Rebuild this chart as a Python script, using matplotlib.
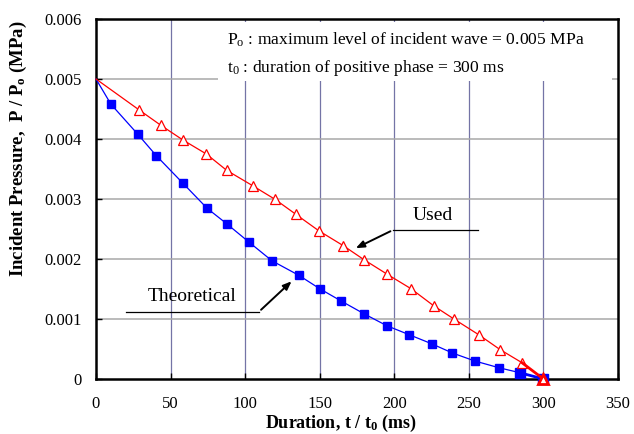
import matplotlib
matplotlib.use("Agg")
import matplotlib.pyplot as plt
from matplotlib.patches import Rectangle

# ---- data ----
theo_t = [0, 10, 28, 40.5, 58, 74.5, 87.5, 102.5, 118, 136, 150, 164, 180, 195, 210, 225, 239, 254, 270, 284, 300]
theo_p = [0.005, 0.00458, 0.00408, 0.00372, 0.00327, 0.002845, 0.00259, 0.002283, 0.00197, 0.001728, 0.001505,
          0.001305, 0.001083, 0.000888, 0.000738, 0.000588, 0.000433, 0.0003, 0.000189, 0.000106, 0.0]
used_t = [0, 29, 43.5, 58.3, 74, 87.6, 105, 120, 134, 149.3, 165.8, 179.7, 195.3, 211.2, 226.6, 240.3, 256.6, 271, 285.6, 300]
used_p = [0.005, 0.004483, 0.004228, 0.003983, 0.00375, 0.003478, 0.003222, 0.002995, 0.002745, 0.002472, 0.002222,
          0.001988, 0.001745, 0.001505, 0.001217, 0.000995, 0.000738, 0.000489, 0.000272, 0.0]
x_ticks = [0, 50, 100, 150, 200, 250, 300, 350]
y_ticks = [0, 0.001, 0.002, 0.003, 0.004, 0.005, 0.006]
y_tick_labels = ["0", "0.001", "0.002", "0.003", "0.004", "0.005", "0.006"]

plt.rcParams['font.family'] = ['Liberation Serif', 'DejaVu Serif']
plt.rcParams['mathtext.fontset'] = 'custom'
plt.rcParams['mathtext.rm'] = 'Liberation Serif'
plt.rcParams['mathtext.it'] = 'Liberation Serif:italic'
plt.rcParams['mathtext.bf'] = 'Liberation Serif:bold'

W, H = 634, 434
fig = plt.figure(figsize=(W/100, H/100), dpi=100)
ax = fig.add_axes([96/W, 55/H, 522/W, 360/H])

ax.set_xlim(0, 350)
ax.set_ylim(0, 0.006)

# grid lines
for x in x_ticks[1:-1]:
    ax.axvline(x, color='#7474A6', lw=0.9, zorder=1)
for y in y_ticks[1:-1]:
    ax.axhline(y, color='#A8A8A8', lw=1.1, zorder=1)

# white box behind the note text
ax.add_patch(Rectangle(((218-96)/522, (379-81)/360), (612-218)/522, (81-22)/360,
                       transform=ax.transAxes, facecolor='white', edgecolor='none', zorder=2))
tx = (227-96)/522
ax.text(tx, (379-40)/360, r"P$_\mathrm{o}$ : maximum level of incident wave = 0.005 MPa",
        transform=ax.transAxes, fontsize=12.6, va='center', ha='left', zorder=3)
ax.text(tx, (379-68)/360, r"t$_\mathrm{0}$ : duration of positive phase = 300 ms",
        transform=ax.transAxes, fontsize=12.6, va='center', ha='left', zorder=3)

ax.plot(theo_t, theo_p, color='#0000FF', lw=0.9, marker='s', markersize=6.3,
        markerfacecolor='#0000FF', markeredgecolor='#0000FF', markevery=list(range(1, len(theo_t))),
        zorder=8, clip_on=False)
# last (bold) segment of the theoretical curve
ax.plot(theo_t[-2:], theo_p[-2:], color='#0000FF', lw=2.0, marker='s', markersize=7,
        markerfacecolor='#0000FF', markeredgecolor='#0000FF', zorder=8, clip_on=False)
ax.plot(used_t, used_p, color='#FF0000', lw=0.9, marker='^', markersize=7.2,
        markerfacecolor='white', markeredgecolor='#FF0000', markeredgewidth=0.9,
        markevery=list(range(1, len(used_t) - 1)), zorder=9, clip_on=False)
# last (bold) segment of the used curve
ax.plot(used_t[-2:], used_p[-2:], color='#FF0000', lw=2.0, zorder=9, clip_on=False)
ax.plot(used_t[-1:], used_p[-1:], color='#FF0000', lw=0, marker='^', markersize=7.5,
        markerfacecolor='white', markeredgecolor='#FF0000', markeredgewidth=2.0, zorder=9, clip_on=False)

# annotations
ax.plot([20.1, 109.3], [0.001122, 0.001122], color='black', lw=0.9, zorder=6)
ax.annotate("", xy=(132.5, 0.00166), xytext=(109.3, 0.001122),
            arrowprops=dict(arrowstyle='-|>,head_length=0.5,head_width=0.2', color='black', lw=1.4), zorder=6)
ax.text(64.4, 0.00137, "Theoretical", fontsize=14, ha='center', va='center', zorder=6)

ax.plot([256.1, 199.1], [0.002483, 0.002483], color='black', lw=0.9, zorder=6)
ax.annotate("", xy=(172.5, 0.00216), xytext=(199.1, 0.002483),
            arrowprops=dict(arrowstyle='-|>,head_length=0.5,head_width=0.2', color='black', lw=1.4), zorder=6)
ax.text(226, 0.00272, "Used", fontsize=14, ha='center', va='center', zorder=6)

ax.set_xticks(x_ticks)
ax.set_xticklabels([str(v) for v in x_ticks])
ax.set_yticks(y_ticks)
ax.set_yticklabels(y_tick_labels)
ax.tick_params(direction='in', length=4, width=1, labelsize=12)
ax.tick_params(axis='x', pad=12.5)
ax.tick_params(axis='y', pad=10.5)

for s in ax.spines.values():
    s.set_linewidth(1.8)
    s.set_color('black')
    s.set_zorder(7)

fig.text(341/W, 1 - 423/H, r"Duration, t / t$_\mathbf{0}$ (ms)", fontsize=13, fontweight='bold',
         ha='center', va='center')
fig.text(18/W, 1 - 149/H, r"Incident Pressure,  P / P$_\mathbf{o}$ (MPa)", fontsize=13.5, fontweight='bold',
         ha='center', va='center', rotation=90)

fig.savefig("out.png", dpi=100, facecolor='white')
